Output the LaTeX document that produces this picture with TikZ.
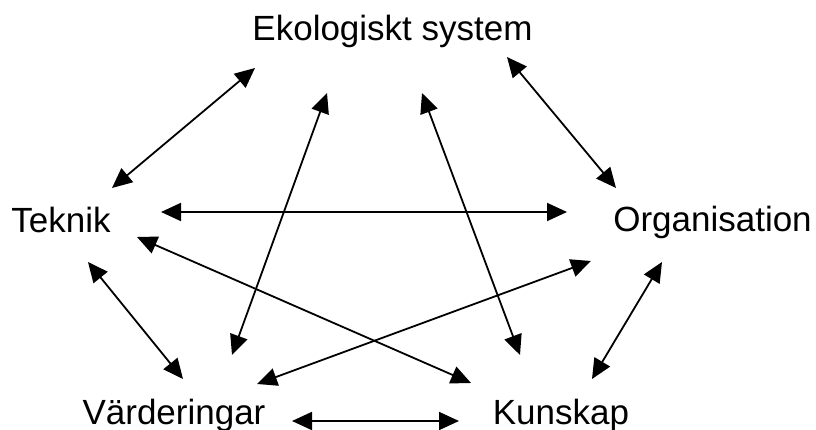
\documentclass[tikz,border=0pt]{standalone}
\usepackage{fontspec}
\setmainfont{Liberation Sans}
\usetikzlibrary{arrows.meta}

\tikzset{
  word/.style={inner sep=0pt, anchor=base, font=\fontsize{35}{42}\selectfont},
  link/.style={{Triangle[length=20pt,width=18pt]}-{Triangle[length=20pt,width=18pt]}, line width=1.8pt}
}

\begin{document}
\begin{tikzpicture}[x=1pt,y=-1pt]
			\useasboundingbox (0,0) rectangle (816,430);
			% texts
			\node[word] (eko) at (392.5,41) {Ekologiskt system};
			\node[word] (teknik) at (61,233) {Teknik};
			\node[word] (org) at (712.5,232) {Organisation};
			\node[word] (varde) at (174,424) {Värderingar};
			\node[word] (kunskap) at (561,424) {Kunskap};
			% arrow ends
			\coordinate (tE) at (112,188);  \coordinate (eT) at (255,68);
			\coordinate (eO) at (507,57);   \coordinate (oE) at (616,188);
			\coordinate (tO) at (161,212);  \coordinate (oT) at (567,212);
			\coordinate (tK) at (137,237);  \coordinate (kT) at (471,383);
			\coordinate (vE) at (232,355);  \coordinate (eV) at (327,93);
			\coordinate (eK) at (422,93);   \coordinate (kE) at (520,355);
			\coordinate (vO) at (257,384);  \coordinate (oV) at (591,261);
			\coordinate (tV) at (88,262);   \coordinate (vT) at (183,379);
			\coordinate (oK) at (662,262);  \coordinate (kO) at (592,379);
			\coordinate (vK) at (292,421);  \coordinate (kV) at (459,421);
			% links
			\draw[link] (tE) -- (eT);
			\draw[link] (eO) -- (oE);
			\draw[link] (tO) -- (oT);
			\draw[link] (tK) -- (kT);
			\draw[link] (vE) -- (eV);
			\draw[link] (eK) -- (kE);
			\draw[link] (vO) -- (oV);
			\draw[link] (tV) -- (vT);
			\draw[link] (oK) -- (kO);
			\draw[link] (vK) -- (kV);
		\end{tikzpicture}
\end{document}
